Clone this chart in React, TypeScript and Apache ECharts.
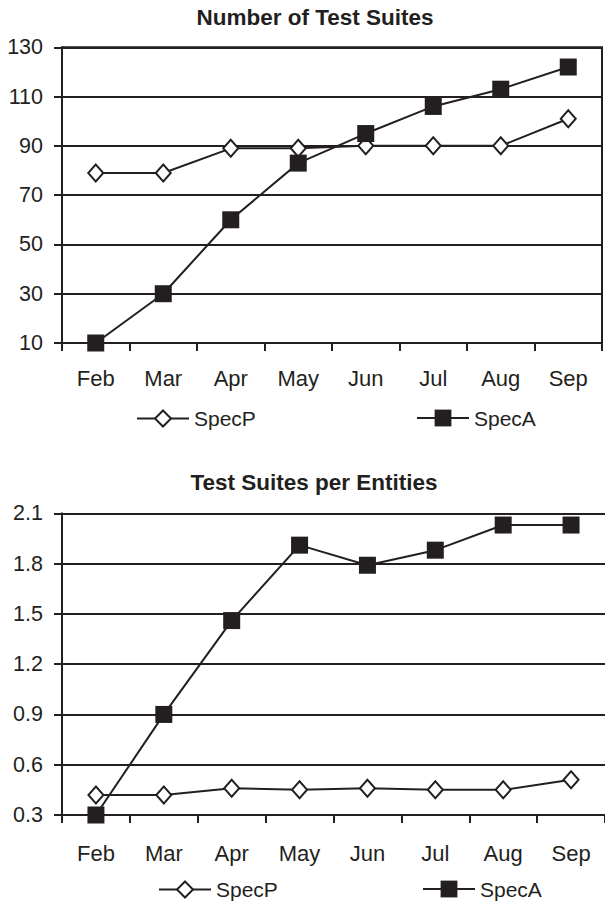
import React, { useEffect, useRef } from "react";
import * as echarts from "echarts";

const months = ["Feb", "Mar", "Apr", "May", "Jun", "Jul", "Aug", "Sep"];
const suitesSpecP = [79, 79, 89, 89, 90, 90, 90, 101];
const suitesSpecA = [10, 30, 60, 83, 95, 106, 113, 122];
const ratioSpecP = [0.42, 0.42, 0.46, 0.45, 0.46, 0.45, 0.45, 0.51];
const ratioSpecA = [0.3, 0.9, 1.46, 1.91, 1.79, 1.88, 2.03, 2.03];
const titles = ["Number of Test Suites", "Test Suites per Entities"];
const seriesNames = ["SpecP", "SpecA"];

const INK = "#231f20";
const FONT = "Liberation Sans, Arial, sans-serif";

export default function App() {
  const ref = useRef<HTMLDivElement>(null);
  useEffect(() => {
    document.body.style.margin = "0";
    const chart = echarts.init(ref.current!, null, { renderer: "svg" });
    const axisLine = { show: true, lineStyle: { color: INK, width: 2 } };
    const tick = { show: true, inside: false, length: 8, lineStyle: { color: INK, width: 2 } };
    const xAxisCommon = {
      type: "category" as const,
      data: months,
      boundaryGap: true,
      axisLine,
      axisTick: tick,
      axisLabel: { color: INK, fontSize: 22, fontFamily: FONT },
      splitLine: { show: false },
    };
    const yAxisCommon = {
      type: "value" as const,
      axisLine,
      axisTick: tick,
      axisLabel: { color: INK, fontSize: 21.5, fontFamily: FONT, margin: 19 },
      splitLine: { show: true, lineStyle: { color: INK, width: 2 } },
    };
    const lineSeries = (name: string, data: number[], idx: number) => {
      const isP = name === "SpecP";
      return {
        type: "line",
        name,
        xAxisIndex: idx,
        yAxisIndex: idx,
        data,
        symbol: isP ? "diamond" : "rect",
        symbolSize: isP ? [15, 17] : 17,
        showAllSymbol: true,
        lineStyle: { color: INK, width: 2 },
        itemStyle: isP
          ? { color: "#ffffff", borderColor: INK, borderWidth: 2 }
          : { color: INK, borderColor: INK, borderWidth: 0 },
        z: isP ? 3 : 4,
      };
    };
    const legendItem = (name: string, left: number, centerY: number, h: number) => ({
      data: [name],
      left,
      top: centerY - h / 2,
      itemWidth: 52,
      itemHeight: h,
      itemGap: 0,
      textStyle: { color: INK, fontSize: 21, fontFamily: FONT },
      padding: 0,
    });
    const titleStyle = { color: INK, fontSize: 22.5, fontWeight: "bold" as const, fontFamily: FONT };
    chart.setOption({
      animation: false,
      backgroundColor: "#ffffff",
      title: [
        { text: titles[0], left: 315, top: 6, textAlign: "center", textStyle: titleStyle, padding: 0 },
        { text: titles[1], left: 314, top: 470.5, textAlign: "center", textStyle: titleStyle, padding: 0 },
      ],
      legend: [
        legendItem(seriesNames[0], 136, 418, 20),
        legendItem(seriesNames[1], 416, 418, 21),
        legendItem(seriesNames[0], 158, 889, 20),
        legendItem(seriesNames[1], 422, 889, 21),
      ],
      grid: [
        { left: 62, width: 540, top: 47.3, height: 295.7, show: true, borderColor: INK, borderWidth: 2, backgroundColor: "transparent" },
        { left: 62, width: 550, top: 513.3, height: 301.7 },
      ],
      xAxis: [
        { ...xAxisCommon, gridIndex: 0, axisLabel: { ...xAxisCommon.axisLabel, margin: 24 } },
        { ...xAxisCommon, gridIndex: 1, axisLabel: { ...xAxisCommon.axisLabel, margin: 27 } },
      ],
      yAxis: [
        { ...yAxisCommon, gridIndex: 0, min: 10, max: 130, interval: 20 },
        {
          ...yAxisCommon,
          gridIndex: 1,
          min: 0.3,
          max: 2.1,
          interval: 0.3,
          axisLabel: { ...yAxisCommon.axisLabel, formatter: (v: number) => v.toFixed(1) },
        },
      ],
      series: [
        lineSeries(seriesNames[0], suitesSpecP, 0),
        lineSeries(seriesNames[1], suitesSpecA, 0),
        lineSeries(seriesNames[0], ratioSpecP, 1),
        lineSeries(seriesNames[1], ratioSpecA, 1),
      ],
    });
    return () => chart.dispose();
  }, []);
  return <div ref={ref} style={{ width: 605, height: 903 }} />;
}
